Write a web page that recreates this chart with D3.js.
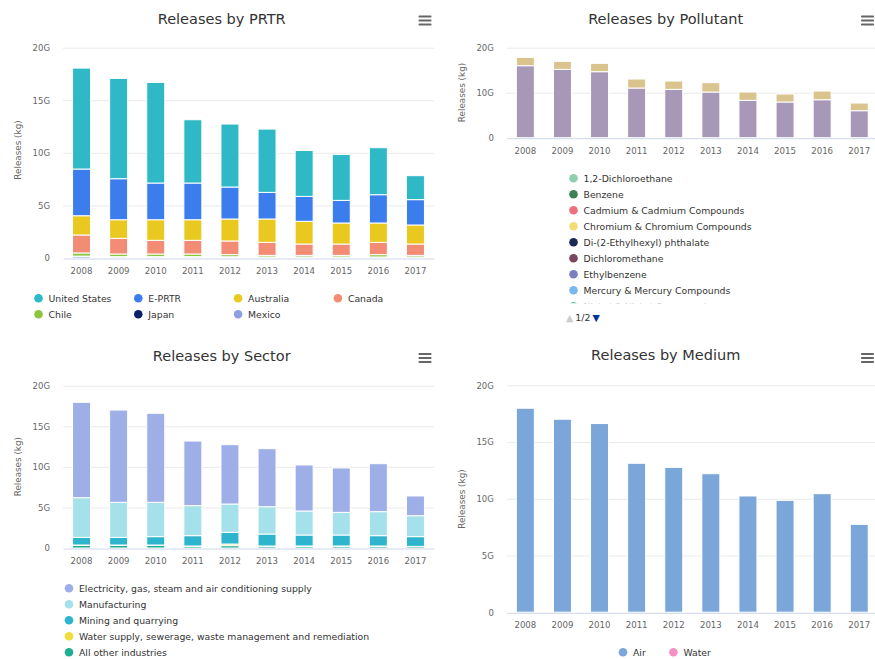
<!DOCTYPE html>
<html>
<head>
<meta charset="utf-8">
<script src="https://cdn.jsdelivr.net/npm/d3@7"></script>
<style>
    body { margin: 0; background: #fff; overflow: hidden; }
    svg { display: block; font-family: "DejaVu Sans", Verdana, sans-serif; }
</style>
</head>
<body>
<svg id="chart" width="875" height="659"></svg>
<script>
// values in G (10^9 kg)
const years = ["2008", "2009", "2010", "2011", "2012", "2013", "2014", "2015", "2016", "2017"];
const yTicks4 = [0, 5, 10, 15, 20];
const yTicks2 = [0, 10, 20];

// Releases by PRTR
const prtrNames = ["United States", "E-PRTR", "Australia", "Canada", "Chile", "Japan", "Mexico"];
const prtrColors = ["#2fb9c6", "#3b7ded", "#e9c81f", "#f28c74", "#8cc63f", "#0c1f6b", "#8ea0e0"];
const prtrUS = [9.60, 9.54, 9.57, 6.02, 5.99, 6.02, 4.37, 4.37, 4.47, 2.28];
const prtrEPRTR = [4.44, 3.90, 3.49, 3.49, 3.04, 2.53, 2.37, 2.15, 2.69, 2.41];
const prtrAustralia = [1.83, 1.77, 1.96, 1.96, 2.09, 2.22, 2.16, 2.00, 1.84, 1.81];
const prtrCanada = [1.71, 1.49, 1.30, 1.30, 1.30, 1.24, 1.08, 1.08, 1.17, 1.08];
const prtrChile = [0.30, 0.25, 0.25, 0.25, 0.20, 0.15, 0.15, 0.15, 0.22, 0.15];
const prtrJapan = [0.03, 0.02, 0.02, 0.02, 0.02, 0.02, 0.02, 0.02, 0.02, 0.02];
const prtrMexico = [0.15, 0.11, 0.11, 0.11, 0.10, 0.08, 0.08, 0.08, 0.08, 0.08];

// Releases by Pollutant (legend page 1 of 2)
const pollutantLegend = ["1,2-Dichloroethane", "Benzene", "Cadmium & Cadmium Compounds",
    "Chromium & Chromium Compounds", "Di-(2-Ethylhexyl) phthalate", "Dichloromethane",
    "Ethylbenzene", "Mercury & Mercury Compounds", "Nickel & Nickel Compounds"];
const pollutantLegendColors = ["#90cfae", "#3f7f55", "#ee6f7f", "#f3dc78", "#1c2857",
    "#7a4760", "#7b7fc0", "#79b8ee", "#5bbfa8"];
const pollutantNames = ["Nitrogen oxides", "Sulphur oxides"];
const pollutantColors = ["#dac48e", "#a898b8"];
const pollNitrogen = [1.85, 1.77, 1.85, 2.00, 1.85, 2.07, 1.85, 1.77, 1.93, 1.70];
const pollSulphur = [16.00, 15.19, 14.67, 11.04, 10.74, 10.15, 8.30, 7.93, 8.44, 6.00];

// Releases by Sector
const sectorNames = ["Electricity, gas, steam and air conditioning supply", "Manufacturing",
    "Mining and quarrying", "Water supply, sewerage, waste management and remediation", "All other industries"];
const sectorColors = ["#9eaee6", "#a5e1eb", "#2eb4cc", "#f2dc3a", "#1fae91"];
const sectorElectricity = [11.75, 11.37, 10.97, 7.96, 7.31, 7.15, 5.67, 5.47, 5.91, 2.43];
const sectorManufacturing = [4.89, 4.32, 4.23, 3.70, 3.49, 3.37, 2.96, 2.79, 2.96, 2.58];
const sectorMining = [0.94, 0.94, 1.03, 1.27, 1.44, 1.47, 1.35, 1.35, 1.27, 1.20];
const sectorWater = [0.05, 0.05, 0.05, 0.03, 0.20, 0.03, 0.03, 0.03, 0.03, 0.02];
const sectorOther = [0.32, 0.32, 0.32, 0.22, 0.29, 0.22, 0.22, 0.22, 0.22, 0.18];

// Releases by Medium
const mediumNames = ["Air", "Water"];
const mediumColors = ["#7ba6d9", "#f590c4"];
const mediumAir = [17.97, 17.00, 16.62, 13.12, 12.76, 12.20, 10.24, 9.85, 10.44, 7.74];
const mediumWater = [0.01, 0.01, 0.01, 0.01, 0.01, 0.01, 0.01, 0.01, 0.01, 0.01];

const svg = d3.select("#chart");
const fmtG = d => d === 0 ? "0" : d + "G";

function drawPanel(opt) {
    const g = svg.append("g");

    // title + menu icon
    g.append("text")
        .attr("x", opt.cx).attr("y", opt.titleY)
        .attr("text-anchor", "middle")
        .attr("fill", "#333")
        .attr("font-size", 14.5)
        .text(opt.title);

    const menu = g.append("g").attr("transform", `translate(${opt.menuX},${opt.menuY})`);
    [0, 4, 8].forEach(dy => {
        menu.append("rect").attr("x", 0).attr("y", dy).attr("width", 13).attr("height", 2)
            .attr("rx", 0.8).attr("fill", "#666");
    });

    const x = d3.scaleBand()
        .domain(years)
        .range([opt.left, opt.right])
        .paddingInner(0.515)
        .paddingOuter(0.2575);

    const y = d3.scaleLinear()
        .domain([0, 20])
        .range([opt.bottom, opt.top]);

    // grid
    g.append("g").selectAll("line")
        .data(opt.ticks.filter(t => t > 0))
        .join("line")
        .attr("x1", opt.left).attr("x2", opt.right)
        .attr("y1", d => y(d) + 0.5).attr("y2", d => y(d) + 0.5)
        .attr("stroke", "#eaeaea");

    // y axis labels
    const ya = g.append("g")
        .attr("transform", `translate(${opt.left - 13},0)`)
        .call(d3.axisLeft(y).tickValues(opt.ticks).tickSize(0).tickPadding(0).tickFormat(fmtG));
    ya.select(".domain").remove();
    ya.selectAll("text")
        .attr("fill", "#666")
        .attr("font-size", 8.5)
        .attr("font-family", "DejaVu Sans");

    g.append("text")
        .attr("transform", `translate(${opt.yTitleX},${opt.yTitleY}) rotate(-90)`)
        .attr("text-anchor", "middle")
        .attr("fill", "#666")
        .attr("font-size", 8.8)
        .text("Releases (kg)");

    // stacked bars, first series on top
    const rows = years.map((yr, i) => {
        const r = { year: yr };
        opt.names.forEach((n, k) => { r[n] = opt.values[k][i]; });
        return r;
    });
    const stacked = d3.stack().keys(opt.names.slice().reverse())(rows);

    g.append("g").selectAll("g")
        .data(stacked)
        .join("g")
        .attr("fill", d => opt.colors[opt.names.indexOf(d.key)])
        .selectAll("rect")
        .data(d => d)
        .join("rect")
        .attr("x", d => x(d.data.year))
        .attr("width", x.bandwidth())
        .attr("y", d => y(d[1]))
        .attr("height", d => Math.max(0, y(d[0]) - y(d[1])))
        .attr("stroke", "#fff")
        .attr("stroke-width", 1);

    // x axis
    const xa = g.append("g")
        .attr("transform", `translate(0,${opt.bottom + 0.5})`)
        .call(d3.axisBottom(x).tickSize(0).tickPadding(9.5));
    xa.select(".domain").attr("stroke", "#ccd6eb");
    xa.selectAll("text")
        .attr("fill", "#666")
        .attr("font-size", 8.6)
        .attr("font-family", "DejaVu Sans");

    return g;
}

function drawLegend(items, colors, pos, clipH) {
    const g = svg.append("g");
    if (clipH) {
        const id = "clip" + Math.round(pos(0).y);
        svg.append("clipPath").attr("id", id)
            .append("rect").attr("x", 0).attr("y", pos(0).y - 8).attr("width", 875).attr("height", clipH);
        g.attr("clip-path", `url(#${id})`);
    }
    items.forEach((name, i) => {
        const p = pos(i);
        g.append("circle").attr("cx", p.x).attr("cy", p.y).attr("r", 4.3).attr("fill", colors[i]);
        g.append("text")
            .attr("x", p.x + 10).attr("y", p.y).attr("dy", "0.35em")
            .attr("fill", "#333").attr("font-size", 9.3)
            .text(name);
    });
}

// top-left: PRTR
drawPanel({
    title: "Releases by PRTR", cx: 221.7, titleY: 23.5, menuX: 418.5, menuY: 15.5,
    left: 63, right: 434, top: 47.7, bottom: 258, ticks: yTicks4,
    yTitleX: 21, yTitleY: 150,
    names: prtrNames, colors: prtrColors,
    values: [prtrUS, prtrEPRTR, prtrAustralia, prtrCanada, prtrChile, prtrJapan, prtrMexico]
});
drawLegend(prtrNames, prtrColors, i => ({ x: 38.5 + (i % 4) * 99.8, y: 298.3 + Math.floor(i / 4) * 16 }));

// top-right: Pollutant
drawPanel({
    title: "Releases by Pollutant", cx: 665.7, titleY: 23.5, menuX: 861, menuY: 15.5,
    left: 506.8, right: 877.8, top: 47.7, bottom: 137.7, ticks: yTicks2,
    yTitleX: 464.5, yTitleY: 92.5,
    names: pollutantNames, colors: pollutantColors,
    values: [pollNitrogen, pollSulphur]
});
drawLegend(pollutantLegend, pollutantLegendColors, i => ({ x: 573.5, y: 178.3 + i * 16 }), 133);

// legend pager
const nav = svg.append("text").attr("x", 566).attr("y", 321).attr("font-size", 9.5);
nav.append("tspan").attr("fill", "#cccccc").text("▲");
nav.append("tspan").attr("fill", "#333").attr("dx", 2).text("1/2");
nav.append("tspan").attr("fill", "#003399").attr("dx", 2).text("▼");

// bottom-left: Sector
drawPanel({
    title: "Releases by Sector", cx: 221.7, titleY: 360.8, menuX: 418.5, menuY: 353,
    left: 63, right: 434, top: 385.7, bottom: 548, ticks: yTicks4,
    yTitleX: 21, yTitleY: 466.7,
    names: sectorNames, colors: sectorColors,
    values: [sectorElectricity, sectorManufacturing, sectorMining, sectorWater, sectorOther]
});
drawLegend(sectorNames, sectorColors, i => ({ x: 69, y: 588.3 + i * 16 }));

// bottom-right: Medium
drawPanel({
    title: "Releases by Medium", cx: 665.7, titleY: 360.3, menuX: 861, menuY: 353,
    left: 506.8, right: 877.8, top: 385.3, bottom: 612.3, ticks: yTicks4,
    yTitleX: 464.5, yTitleY: 499,
    names: mediumNames, colors: mediumColors,
    values: [mediumAir, mediumWater]
});
drawLegend(mediumNames, mediumColors, i => ({ x: 623 + i * 50.4, y: 652.3 }));
</script>
</body>
</html>
